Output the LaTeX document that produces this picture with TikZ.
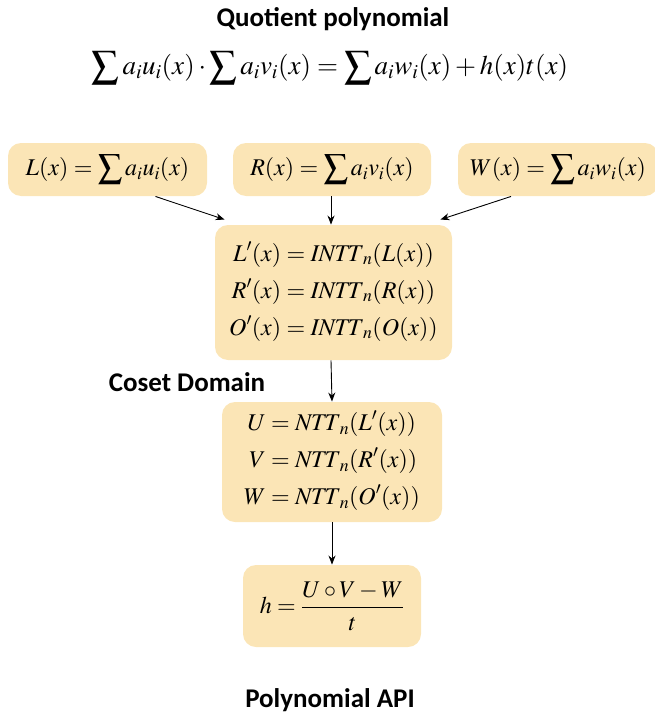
\documentclass[tikz,border=0pt]{standalone}
\usepackage{amsmath}
\usepackage{mathptmx}
\usepackage[no-math]{fontspec}
\newfontfamily\titlefont{Carlito}
\usetikzlibrary{arrows.meta}
\definecolor{boxfill}{RGB}{251,229,182}
\tikzstyle{every node}=[font=\fontsize{24}{29}\selectfont]
\tikzstyle{box}=[fill=boxfill, rounded corners=13pt, align=center]
\tikzstyle{title}=[font=\titlefont\bfseries\fontsize{27}{32}\selectfont]

\begin{document}
\begin{tikzpicture}[x=1pt, y=-1pt, line width=0.9pt, >={Stealth[length=9pt,width=7pt]}]
\useasboundingbox (0,0) rectangle (655,717);
% Titles
	\node[title] (quot) at (333,19) {Quotient polynomial};
	\node[font=\fontsize{27}{32}\selectfont] (eq) at (330,68) {$\displaystyle\sum a_iu_i(x)\cdot\sum a_iv_i(x)=\sum a_iw_i(x)+h(x)t(x)$};
	\node[title] (coset) at (187,382) {Coset Domain};
	\node[title] (api) at (330,700) {Polynomial API};
% Boxes
	\node[box, minimum width=199pt, minimum height=53pt] (lbox) at (107.5,169.5) {$L(x)=\displaystyle\sum a_iu_i(x)$};
	\node[box, minimum width=198pt, minimum height=53pt] (rbox) at (332,169.5) {$R(x)=\displaystyle\sum a_iv_i(x)$};
	\node[box, minimum width=200pt, minimum height=53pt] (wbox) at (558,169.5) {$W(x)=\displaystyle\sum a_iw_i(x)$};
	\node[box, minimum width=237pt, minimum height=135pt] (intt) at (333.5,292.5) {$\begin{aligned}L'(x)&=\mathit{INTT}_n(L(x))\\[5pt] R'(x)&=\mathit{INTT}_n(R(x))\\[5pt] O'(x)&=\mathit{INTT}_n(O(x))\end{aligned}$};
	\node[box, minimum width=220pt, minimum height=120pt] (ntt) at (332,462) {$\begin{aligned}U&=\mathit{NTT}_n(L'(x))\\[5pt] V&=\mathit{NTT}_n(R'(x))\\[5pt] W&=\mathit{NTT}_n(O'(x))\end{aligned}$};
	\node[box, minimum width=178pt, minimum height=82pt] (hbox) at (332,606) {$h=\dfrac{U\circ V-W}{t}$};
% Arrows
	\draw[->] ([xshift=-52pt]lbox.south east) -- ([shift={(10pt,5pt)}]intt.north west);
	\draw[->] ([xshift=-1pt]rbox.south) -- ([xshift=-2.5pt]intt.north);
	\draw[->] ([xshift=-47pt]wbox.south) -- ([shift={(-12pt,5pt)}]intt.north east);
	\draw[->] ([xshift=-2.5pt]intt.south) -- (ntt.north);
	\draw[->] (ntt.south) -- (hbox.north);
\end{tikzpicture}
\end{document}
